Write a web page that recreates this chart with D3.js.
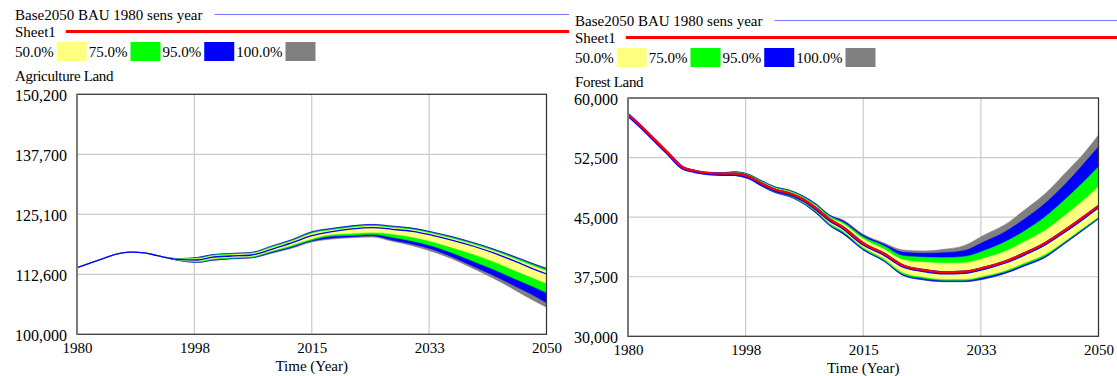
<!DOCTYPE html>
<html>
<head>
<meta charset="utf-8">
<script src="https://cdn.jsdelivr.net/npm/d3@7"></script>
<style>
  html, body { margin: 0; padding: 0; background: #fff; }
  svg { display: block; }
  text { font-family: "Liberation Serif", "Times New Roman", serif; font-size: 15px; fill: #000; }
</style>
</head>
<body>
<svg id="chart" width="1117" height="376"></svg>
<script>
// ---- run / legend labels ----
const runName = "Base2050 BAU 1980 sens year";
const sheetName = "Sheet1";
const bandLabels = ["50.0%", "75.0%", "95.0%", "100.0%"];
const bandColors = ["#ffff80", "#00ff00", "#0000ff", "#808080"];

// ---- time axis ----
const xTickValues = [1980, 1997.5, 2015, 2032.5, 2050];
const xTickLabels = ["1980", "1998", "2015", "2033", "2050"];

// ---- Agriculture Land ----
const agriTicks = [100000, 112550, 125100, 137650, 150200];
const agriTickLabels = ["100,000", "112,600", "125,100", "137,700", "150,200"];
const agriYears = [1980,1984,1986,1988,1990,1992,1995,1998,2000,2003,2006,2009,2012,2015,2018,2021,2024,2027,2030,2033,2036,2039,2042,2045,2048,2050];
const agriBase = [113930,115900,116800,117200,117050,116450,115690,115540,116100,116380,116590,117780,119100,120630,121480,122030,122300,121960,121540,120700,119660,118470,117070,115450,113700,112610];
const agriMax  = [113930,115900,116800,117200,117050,116450,115850,116100,116650,116940,117150,118470,119800,121470,122170,122720,123000,122650,122240,121400,120420,119240,117910,116400,114800,113800];
const agriHi95 = [113930,115900,116800,117200,117050,116450,115840,116070,116620,116910,117120,118440,119770,121440,122140,122690,122970,122620,122210,121370,120390,119210,117880,116370,114770,113770];
const agriHi75 = [113930,115900,116800,117200,117050,116450,115800,115950,116500,116790,117000,118300,119620,121260,121960,122510,122790,122440,122030,121190,120200,119020,117690,116170,114560,113550];
const agriHi50 = [113930,115900,116800,117200,117050,116450,115750,115800,116350,116640,116850,118100,119420,121050,121750,122300,122580,122230,121820,120980,119980,118800,117450,115900,114250,113230];
const agriLo50 = [113930,115900,116800,117200,117050,116450,115610,115300,115800,116100,116300,117450,118650,120000,120910,121120,121330,120980,120350,119380,118120,116800,115260,113500,111800,110670];
const agriLo75 = [113930,115900,116800,117200,117050,116450,115540,115150,115600,115930,116130,117250,118380,119720,120560,120700,120910,120280,119520,118470,117010,115330,113660,111800,110000,108700];
const agriLo95 = [113930,115900,116800,117200,117050,116450,115480,115050,115470,115810,116010,117050,118170,119520,120140,120420,120630,119720,118890,117770,116170,114290,112400,110300,108200,106610];
const agriMin  = [113930,115900,116800,117200,117050,116450,115450,115000,115400,115750,115960,116940,117990,119310,119930,120210,120350,119450,118540,117280,115750,113800,111780,109500,107100,105650];

// ---- Forest Land ----
const forestTicks = [30000, 37500, 45000, 52500, 60000];
const forestTickLabels = ["30,000", "37,500", "45,000", "52,500", "60,000"];
const forestYears = [1980,1982,1984,1986,1988,1990,1992,1994,1996,1998,2000,2002,2004,2006,2008,2010,2012,2015,2018,2021,2024,2027,2030,2033,2036,2039,2042,2045,2048,2050];
const forestSheet1 = [57950,56390,54710,53040,51350,50810,50560,50470,50470,50090,49170,48420,48000,47250,46110,44730,43720,41710,40450,38890,38350,38060,38130,38640,39390,40450,41700,43350,45150,46400];
const forestBase = [57880,56320,54640,52970,51280,50740,50490,50400,50400,50020,49100,48350,47930,47180,46040,44660,43650,41640,40380,38820,38280,37990,38060,38570,39320,40380,41630,43280,45080,46330];
const forestMax  = [57950,56390,54710,53040,51350,50810,50560,50600,50720,50390,49550,48800,48420,47700,46660,45270,44640,42840,41780,40860,40740,40950,41410,42750,44010,45900,47900,50500,53200,55340];
const forestHi95 = [57950,56390,54710,53040,51350,50810,50560,50590,50700,50370,49530,48780,48400,47680,46640,45250,44550,42710,41620,40570,40450,40520,40780,41910,43090,44770,46700,49100,51900,53870];
const forestHi75 = [57950,56390,54710,53040,51350,50810,50560,50560,50640,50300,49450,48700,48310,47580,46520,45120,44350,42500,41410,40110,39950,39900,40020,40780,41830,43260,45000,47200,49600,51350];
const forestHi50 = [57950,56390,54710,53040,51350,50810,50560,50520,50570,50200,49330,48580,48180,47440,46360,44950,44140,42250,40990,39610,39320,39190,39230,39820,40650,41910,43300,45200,47300,48830];
const forestLo50 = [57950,56390,54710,53040,51350,50810,50560,50420,50370,49960,49000,48240,47800,46980,45800,44250,43260,41200,39820,38010,37500,37210,37210,37630,38260,39270,40320,42000,43850,45060];
const forestLo75 = [57950,56390,54710,53040,51350,50810,50560,50380,50290,49870,48900,48130,47670,46850,45640,44080,43090,41030,39640,37810,37300,37050,37050,37470,38100,39060,40110,41870,43700,44930];
const forestLo95 = [57950,56390,54710,53040,51350,50810,50560,50360,50240,49820,48850,48060,47590,46760,45500,43940,42900,40880,39500,37650,37110,36890,36890,37230,37900,38870,39920,41700,43550,44790];
const forestMin  = [57950,56390,54710,53040,51350,50810,50560,50350,50220,49800,48830,48040,47570,46740,45480,43920,42880,40860,39480,37630,37090,36870,36870,37210,37880,38850,39900,41680,43530,44770];

const svg = d3.select("#chart");
const curve = d3.curveMonotoneX;

function drawPanel(p) {
  const g = svg.append("g");

  // legend: run line, sheet line, band swatches, variable title
  const lx = p.legendX, ly = p.legendY;
  const t1 = g.append("text").attr("x", lx).attr("y", ly + 19.5).text(runName);
  g.append("line")
    .attr("x1", lx + t1.node().getComputedTextLength() + 12).attr("x2", p.legendLineEnd)
    .attr("y1", ly + 14.5).attr("y2", ly + 14.5)
    .attr("stroke", "#7878ff").attr("stroke-width", 1.2);
  const t2 = g.append("text").attr("x", lx).attr("y", ly + 37).text(sheetName);
  g.append("line")
    .attr("x1", lx + t2.node().getComputedTextLength() + 10).attr("x2", p.legendLineEnd)
    .attr("y1", ly + 31.5).attr("y2", ly + 31.5)
    .attr("stroke", "#ff0000").attr("stroke-width", 3);
  let cx = lx;
  bandLabels.forEach((lab, i) => {
    const t = g.append("text").attr("x", cx).attr("y", ly + 57).text(lab);
    cx += t.node().getComputedTextLength() + 3;
    g.append("rect").attr("x", cx).attr("y", ly + 42).attr("width", 30).attr("height", 19)
      .attr("fill", bandColors[i]);
    cx += 32;
  });
  g.append("text").attr("x", lx).attr("y", ly + 81).attr("letter-spacing", "-0.35px").text(p.title);

  // scales
  const x = d3.scaleLinear().domain([1980, 2050]).range([p.left, p.right]);
  const y = d3.scaleLinear().domain([p.ticks[0], p.ticks[p.ticks.length - 1]]).range([p.bottom, p.top]);

  // grid
  const grid = g.append("g").attr("stroke", "#cbcbcb").attr("stroke-width", 1.2);
  grid.selectAll("line.v").data(xTickValues).join("line")
    .attr("x1", d => x(d)).attr("x2", d => x(d)).attr("y1", p.top).attr("y2", p.bottom);
  grid.selectAll("line.h").data(p.ticks).join("line")
    .attr("x1", p.left).attr("x2", p.right).attr("y1", d => y(d)).attr("y2", d => y(d));

  // sensitivity bands, outermost first
  const clipId = "clip-" + p.id;
  g.append("clipPath").attr("id", clipId).append("rect")
    .attr("x", p.left).attr("y", p.top).attr("width", p.right - p.left).attr("height", p.bottom - p.top);
  const plot = g.append("g").attr("clip-path", `url(#${clipId})`);
  const rows = p.years.map((yr, i) => ({ yr, i }));
  const bands = [
    { lo: p.min,  hi: p.max,  color: "#808080" },
    { lo: p.lo95, hi: p.hi95, color: "#0000ff" },
    { lo: p.lo75, hi: p.hi75, color: "#00ff00" },
    { lo: p.lo50, hi: p.hi50, color: "#ffff80" }
  ];
  bands.forEach(b => {
    const area = d3.area().curve(curve)
      .x(d => x(d.yr))
      .y0(d => y(b.lo[d.i]))
      .y1(d => y(b.hi[d.i]));
    plot.append("path").datum(rows).attr("d", area).attr("fill", b.color)
      .attr("stroke", b.color).attr("stroke-width", 0.6);
  });
  const line = arr => d3.line().curve(curve).x(d => x(d.yr)).y(d => y(arr[d.i]));
  plot.append("path").datum(rows).attr("d", line(p.base))
    .attr("fill", "none").attr("stroke", "#0000ff").attr("stroke-width", p.baseWidth);
  if (p.sheet) {
    plot.append("path").datum(rows).attr("d", line(p.sheet))
      .attr("fill", "none").attr("stroke", "#ff0000").attr("stroke-width", 2.2);
  }

  // frame
  g.append("rect").attr("x", p.left).attr("y", p.top)
    .attr("width", p.right - p.left).attr("height", p.bottom - p.top)
    .attr("fill", "none").attr("stroke", "#333").attr("stroke-width", 1.2);
  g.append("line").attr("x1", p.left).attr("x2", p.left).attr("y1", p.top).attr("y2", p.bottom)
    .attr("stroke", "#7a7a7a").attr("stroke-width", 2);

  // axes
  const xAxis = d3.axisBottom(x).tickValues(xTickValues)
    .tickFormat((d, i) => xTickLabels[i]).tickSize(0).tickPadding(0);
  const xg = g.append("g").attr("transform", `translate(0,${p.bottom})`).call(xAxis);
  xg.select(".domain").remove();
  xg.selectAll("text").attr("dy", null).attr("y", 19).style("font-size", "15px")
    .style("font-family", '"Liberation Serif", serif').attr("fill", "#000");

  const yAxis = d3.axisLeft(y).tickValues(p.ticks)
    .tickFormat((d, i) => p.tickLabels[i]).tickSize(0).tickPadding(0);
  const yg = g.append("g").attr("transform", `translate(${p.left - 10},0)`).call(yAxis);
  yg.select(".domain").remove();
  yg.selectAll("text").attr("dy", null).attr("y", 6).attr("x", 0).style("font-size", "16px")
    .style("font-family", '"Liberation Serif", serif').attr("fill", "#000");

  g.append("text").attr("x", (p.left + p.right) / 2).attr("y", p.bottom + 37)
    .attr("text-anchor", "middle").text("Time (Year)");
}

drawPanel({
  id: "agri", title: "Agriculture Land",
  legendX: 15, legendY: 0, legendLineEnd: 569,
  left: 77, right: 546.5, top: 94.3, bottom: 334.3,
  ticks: agriTicks, tickLabels: agriTickLabels,
  years: agriYears, base: agriBase, sheet: null, baseWidth: 1.3,
  max: agriMax, hi95: agriHi95, hi75: agriHi75, hi50: agriHi50,
  lo50: agriLo50, lo75: agriLo75, lo95: agriLo95, min: agriMin
});

drawPanel({
  id: "forest", title: "Forest Land",
  legendX: 575, legendY: 6, legendLineEnd: 1117,
  left: 628, right: 1098.5, top: 98, bottom: 336.3,
  ticks: forestTicks, tickLabels: forestTickLabels,
  years: forestYears, base: forestBase, sheet: forestSheet1, baseWidth: 3.4,
  max: forestMax, hi95: forestHi95, hi75: forestHi75, hi50: forestHi50,
  lo50: forestLo50, lo75: forestLo75, lo95: forestLo95, min: forestMin
});
</script>
</body>
</html>
